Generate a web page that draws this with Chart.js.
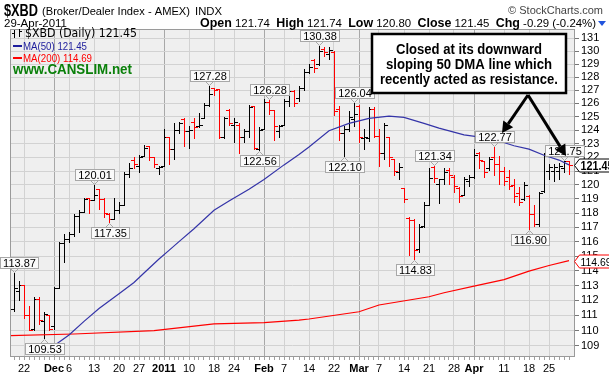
<!DOCTYPE html>
<html><head><meta charset="utf-8">
<script src="https://cdn.jsdelivr.net/npm/chart.js@4/dist/chart.umd.min.js"></script>
<style>html,body{margin:0;padding:0;background:#fff}canvas{display:block}</style>
</head><body>
<canvas id="c" width="609" height="377"></canvas>
<script>
// ---- data ----
const opens  = [111.4,112.6,113.0,111.0,110.1,112.1,110.6,111.0,110.3,112.8,115.9,116.2,116.5,117.8,118.1,119.1,118.9,119.7,119.0,117.95,117.6,118.2,118.6,120.8,121.8,121.4,122.1,122.8,122.0,121.2,121.4,123.5,122.6,124.0,124.8,123.9,124.6,124.3,124.9,125.9,127.2,127.1,123.5,125.5,124.4,124.4,123.5,123.9,125.8,122.6,124.1,126.1,125.5,123.9,124.4,126.2,126.9,126.4,127.2,128.4,129.3,129.0,130.2,129.8,129.9,125.6,123.8,124.1,124.8,125.8,123.4,123.4,125.6,123.6,122.3,123.5,121.9,120.9,119.8,117.65,117.5,115.5,117.1,118.6,121.3,120.1,120.4,121.1,120.6,119.8,119.3,120.3,120.6,122.3,121.7,121.2,122.0,121.5,121.0,120.6,120.0,119.4,119.0,119.2,117.9,117.2,119.6,121.0,121.0,121.0,121.2,121.74];
const highs  = [113.87,113.3,113.0,111.6,112.2,112.2,111.2,111.0,112.9,116.0,116.5,116.7,117.9,118.2,119.1,119.1,120.01,119.7,119.1,118.0,119.1,118.8,120.9,121.6,122.0,122.2,122.9,122.8,122.0,121.4,124.1,123.5,124.5,124.6,124.9,124.3,124.9,125.3,126.0,127.28,127.2,127.1,125.0,125.6,124.9,124.5,124.1,125.9,125.8,124.2,126.3,126.28,125.5,124.4,126.3,127.0,127.0,127.3,128.6,129.0,129.4,130.38,130.3,130.3,130.0,125.8,124.3,125.4,126.04,125.9,124.1,125.7,125.7,124.1,124.5,123.5,121.9,121.6,119.8,117.7,117.6,117.2,118.8,121.2,121.34,120.45,121.2,121.2,120.7,119.86,120.6,120.7,122.6,122.4,121.75,122.0,122.77,122.1,121.27,121.05,120.45,119.86,120.2,119.3,118.6,119.5,122.3,121.5,121.5,121.6,121.75,121.74];
const lows   = [111.3,112.0,110.8,110.0,110.0,110.4,109.53,110.0,110.1,112.8,114.6,116.0,116.4,116.7,118.1,118.0,118.9,118.3,117.7,117.35,117.6,118.0,118.6,120.6,121.2,120.9,122.1,121.8,121.3,120.8,121.4,121.5,121.9,123.8,122.8,122.7,123.4,124.2,124.9,125.8,126.6,123.4,123.4,124.4,123.1,122.3,123.1,123.5,122.6,122.56,124.1,125.2,123.3,123.5,124.4,125.8,125.8,126.2,127.0,128.3,128.4,128.9,129.6,129.4,125.1,123.3,122.10,123.9,124.3,123.1,122.6,123.2,123.5,121.4,121.9,121.4,120.7,120.45,118.8,115.1,114.83,115.3,117.0,118.6,120.2,118.7,120.1,120.1,119.5,118.8,119.27,119.9,120.5,121.2,120.6,121.1,120.7,120.1,120.0,119.74,118.8,118.56,118.9,116.90,117.1,117.1,119.5,120.4,120.3,120.4,120.9,120.80];
const closes = [112.8,113.0,111.0,110.05,112.1,110.7,111.1,110.1,112.8,115.9,116.2,116.5,117.8,118.1,119.0,118.9,119.3,119.0,118.0,117.6,118.2,118.6,120.8,121.2,121.5,122.0,122.7,122.0,121.5,121.3,123.5,122.6,124.0,124.5,123.9,124.0,124.2,124.4,125.9,126.7,127.0,123.5,124.9,124.5,124.6,123.5,123.9,125.7,122.7,124.0,126.1,125.5,124.3,124.3,126.2,126.9,126.0,127.2,128.4,128.8,128.7,130.0,129.9,130.1,125.4,123.8,124.1,125.0,125.2,123.5,123.5,125.6,123.6,122.3,124.4,122.0,121.0,121.3,119.0,117.5,115.4,117.0,118.6,120.5,120.5,120.4,120.9,120.7,119.9,119.2,120.4,120.6,122.2,121.8,120.9,121.9,121.5,121.0,120.3,119.9,119.2,118.8,120.0,117.9,117.2,119.4,122.2,121.3,121.3,121.4,121.7,121.45];

const ma50Idx  = [6,8,11,14,17,21,24,26,29,31,33,36,40,43,47,50,54,57,59,63,67,71,75,78,82,85,90,94,97,100,103,106,109,111];
const ma50Val  = [108.6,109.0,109.7,110.6,111.45,112.45,113.2,113.85,114.8,115.4,116.0,116.9,118.2,118.85,119.7,120.4,121.45,122.2,122.75,123.95,124.5,124.88,125.05,124.95,124.5,124.15,123.65,123.45,123.2,122.85,122.6,122.15,121.8,121.45];
const ma200Idx = [-1,12,28,40,50,57,59,69,73,83,86,92,98,103,107,111];
const ma200Val = [109.66,109.77,109.99,110.43,110.52,110.69,110.76,111.24,111.69,112.24,112.51,112.96,113.4,113.97,114.36,114.69];

const xTickIdx    = [2,8,11,16,21,25,30,35,40,44,50,54,59,64,69,73,78,83,88,92,98,103,107];
const xTickLabels = ['22','Dec','6','13','20','27','2011','10','18','24','Feb','7','14','22','Mar','7','14','21','28','Apr','11','18','25'];
const majorLabels = ['Dec','2011','Feb','Mar','Apr'];
const yTicks = [109,110,111,112,113,114,115,116,117,118,119,120,121,122,123,124,125,126,127,128,129,130,131];

const labelIdx = [0,6,16,19,39,49,51,61,66,68,80,84,96,103,110];
const labelTxt = ['113.87','109.53','120.01','117.35','127.28','122.56','126.28','130.38','122.10','126.04','114.83','121.34','122.77','116.90','121.75'];
const labelUp  = [true,false,true,false,true,false,true,true,false,true,false,true,true,false,true];

const noteLines = ['Closed at its downward','sloping 50 DMA line which','recently acted as resistance.'];

// ---- drawing helpers ----
const SANS = '"Liberation Sans", Arial, sans-serif';
function fitText(ctx, txt, x, y, font, w, align){
  ctx.font = font;
  const m = ctx.measureText(txt).width;
  const s = w ? w/m : 1;
  ctx.save();
  let x0 = x;
  if (align === 'right') x0 = x - m*s;
  else if (align === 'center') x0 = x - m*s/2;
  ctx.translate(x0, y); ctx.scale(s, 1);
  ctx.textAlign = 'left';
  ctx.fillText(txt, 0, 0);
  ctx.restore();
  return m*s;
}

const bgPlugin = {
  id:'bg',
  beforeDraw(chart){
    const {ctx, chartArea:a} = chart;
    ctx.save();
    ctx.fillStyle = '#fff'; ctx.fillRect(0,0,chart.width,chart.height);
    ctx.fillStyle = '#efefef'; ctx.fillRect(a.left,a.top,a.right-a.left,a.bottom-a.top);
    ctx.restore();
  }
};

const ohlcPlugin = {
  id:'ohlc',
  beforeDatasetsDraw(chart){
    const {ctx, scales:{x,y}, chartArea:a} = chart;
    ctx.save();
    ctx.beginPath(); ctx.rect(a.left,a.top,a.right-a.left,a.bottom-a.top); ctx.clip();
    ctx.lineWidth = 1;
    for (let i=0;i<opens.length;i++){
      const px = Math.round(x.getPixelForValue(i)) + 0.5;
      const yh = Math.round(y.getPixelForValue(highs[i]));
      const yl = Math.round(y.getPixelForValue(lows[i]));
      const yo = Math.round(y.getPixelForValue(opens[i])) + 0.5;
      const yc = Math.round(y.getPixelForValue(closes[i])) + 0.5;
      ctx.strokeStyle = closes[i] >= opens[i] ? '#000000' : '#ff0000';
      ctx.beginPath();
      ctx.moveTo(px, yh); ctx.lineTo(px, yl + 1);
      ctx.moveTo(px - 3.5, yo); ctx.lineTo(px, yo);
      ctx.moveTo(px, yc); ctx.lineTo(px + 3.5, yc);
      ctx.stroke();
    }
    ctx.restore();
  }
};

const overlayPlugin = {
  id:'overlay',
  afterDatasetsDraw(chart){
    const {ctx, scales:{x,y}, chartArea:a} = chart;
    ctx.save();
    // frame
    ctx.strokeStyle = '#9a9a9a'; ctx.lineWidth = 1;
    ctx.strokeRect(Math.round(a.left)+0.5, Math.round(a.top)+0.5, Math.round(a.right-a.left)-1, Math.round(a.bottom-a.top)-1);

    // price labels
    ctx.font = '11px ' + SANS;
    ctx.textBaseline = 'middle';
    for (let k=0;k<labelIdx.length;k++){
      const i = labelIdx[k];
      const px = Math.round(x.getPixelForValue(i)) + 0.5;
      const w = Math.round(ctx.measureText(labelTxt[k]).width) + 5;
      const h = 11;
      let by, tipY, baseY;
      if (labelUp[k]){
        tipY = Math.round(y.getPixelForValue(highs[i])) - 1;
        baseY = tipY - 4;
        by = baseY - h;
      } else {
        tipY = Math.round(y.getPixelForValue(lows[i])) + 1;
        baseY = tipY + 4;
        by = baseY;
      }
      let bx = Math.round(px - w/2);
      if (bx < 0) bx = 0;
      ctx.fillStyle = 'rgba(250,250,250,0.95)';
      ctx.fillRect(bx+0.5, by+0.5, w, h);
      ctx.strokeStyle = '#a8a8a8';
      ctx.strokeRect(bx+0.5, by+0.5, w, h);
      ctx.beginPath();
      ctx.moveTo(px-4, baseY+0.5); ctx.lineTo(px, tipY+0.5); ctx.lineTo(px+4, baseY+0.5);
      ctx.stroke();
      ctx.fillStyle = '#000';
      ctx.textAlign = 'center';
      ctx.fillText(labelTxt[k], bx + w/2 + 0.5, by + h/2 + 1);
    }

    // right side value flags
    const flag = (v, txt, border, bold) => {
      const yy = Math.round(y.getPixelForValue(v)) + 0.5;
      const x0 = Math.round(a.right) - 0.5;
      ctx.beginPath();
      ctx.moveTo(x0, yy);
      ctx.lineTo(x0+5, yy-6.5); ctx.lineTo(612, yy-6.5); ctx.lineTo(612, yy+6.5); ctx.lineTo(x0+5, yy+6.5);
      ctx.closePath();
      ctx.fillStyle = '#fff'; ctx.fill();
      ctx.strokeStyle = border; ctx.lineWidth = 1; ctx.stroke();
      ctx.fillStyle = '#000';
      ctx.textBaseline = 'middle';
      fitText(ctx, txt, x0+6, yy+1, (bold ? 'bold 12px ' : '11px ') + SANS, bold ? 33 : 31, 'left');
    };
    flag(closes[closes.length-1], '121.45', '#000', true);
    flag(ma200Val[ma200Val.length-1], '114.69', '#ff0000', false);

    // legend
    ctx.textBaseline = 'alphabetic';
    ctx.strokeStyle = '#000'; ctx.lineWidth = 1;
    ctx.beginPath();
    ctx.moveTo(14.5,30); ctx.lineTo(14.5,38); ctx.moveTo(12,33.5); ctx.lineTo(14.5,33.5);
    ctx.moveTo(19.5,29); ctx.lineTo(19.5,37); ctx.moveTo(19.5,31.5); ctx.lineTo(22,31.5);
    ctx.stroke();
    ctx.fillStyle = '#000';
    fitText(ctx, '$XBD (Daily) 121.45', 25, 37, '12px "DejaVu Sans", Verdana, sans-serif', 112, 'left');
    ctx.fillStyle = '#1c1c9c'; ctx.fillRect(13, 45, 9, 2);
    fitText(ctx, 'MA(50) 121.45', 23, 50, '11px ' + SANS, 64, 'left');
    ctx.fillStyle = '#ff0000'; ctx.fillRect(13, 57, 9, 2);
    fitText(ctx, 'MA(200) 114.69', 23, 62, '11px ' + SANS, 69, 'left');
    ctx.fillStyle = '#0a800a';
    fitText(ctx, 'www.CANSLIM.net', 13, 74, 'bold 15px ' + SANS, 119, 'left');

    // annotation box
    ctx.fillStyle = '#fff';
    ctx.fillRect(371, 33, 196, 61);
    ctx.strokeStyle = '#000'; ctx.lineWidth = 2.5;
    ctx.strokeRect(372, 34, 194, 59);
    ctx.fillStyle = '#000';
    ctx.textAlign = 'left';
    const noteW = [146, 166, 178];
    const noteY = [54, 69, 84];
    for (let k=0;k<noteLines.length;k++) fitText(ctx, noteLines[k], 469, noteY[k], 'bold 14px ' + SANS, noteW[k], 'center');

    // arrows
    const arrow = (x1,y1,x2,y2) => {
      ctx.strokeStyle = '#000'; ctx.fillStyle = '#000'; ctx.lineWidth = 3;
      const ang = Math.atan2(y2-y1, x2-x1);
      const hl = 11, hw = 6;
      const bx = x2 - hl*Math.cos(ang), by = y2 - hl*Math.sin(ang);
      ctx.beginPath(); ctx.moveTo(x1,y1); ctx.lineTo(bx,by); ctx.stroke();
      ctx.beginPath();
      ctx.moveTo(x2,y2);
      ctx.lineTo(bx + hw*Math.sin(ang), by - hw*Math.cos(ang));
      ctx.lineTo(bx - hw*Math.sin(ang), by + hw*Math.cos(ang));
      ctx.closePath(); ctx.fill();
    };
    arrow(528, 95, 502, 133);
    arrow(528, 95, 566, 156);
    ctx.restore();
  },
  afterDraw(chart){
    const ctx = chart.ctx;
    ctx.save();
    ctx.textBaseline = 'alphabetic';
    ctx.fillStyle = '#000';
    fitText(ctx, '$XBD', 4, 16, 'bold 17px ' + SANS, 34, 'left');
    fitText(ctx, '(Broker/Dealer Index - AMEX)', 42, 15, '11px ' + SANS, 148, 'left');
    fitText(ctx, 'INDX', 195, 15, '11px ' + SANS, 27, 'left');
    ctx.fillStyle = '#444';
    fitText(ctx, '\u00A9 StockCharts.com', 603, 14, '11px ' + SANS, 0, 'right');
    ctx.fillStyle = '#000';
    fitText(ctx, '29-Apr-2011', 4, 27, '11px ' + SANS, 63, 'left');
    const segs = [['Open',' 121.74  '],['High',' 121.74  '],['Low',' 120.80  '],['Close',' 121.45  '],['Chg',' -0.29 (-0.24%)']];
    const fb = 'bold 12px ' + SANS, fr = '11px ' + SANS;
    let tot = 0;
    segs.forEach(s => { ctx.font = fb; tot += ctx.measureText(s[0]).width; ctx.font = fr; tot += ctx.measureText(s[1]).width; });
    const sc = 396 / tot;
    let xx = 200;
    segs.forEach(s => {
      xx += fitText(ctx, s[0], xx, 27, fb, ctx.measureText(s[0]).width ? (ctx.font = fb, ctx.measureText(s[0]).width * sc) : 0, 'left');
      ctx.font = fr;
      xx += fitText(ctx, s[1], xx, 27, fr, ctx.measureText(s[1]).width * sc, 'left');
    });
    ctx.fillStyle = '#2255dd';
    ctx.beginPath(); ctx.moveTo(598,21); ctx.lineTo(606,21); ctx.lineTo(602,26); ctx.closePath(); ctx.fill();
    ctx.restore();
  }
};

const ctx = document.getElementById('c').getContext('2d');
new Chart(ctx, {
  type: 'line',
  data: {
    datasets: [
      { label:'MA(50)', data: ma50Idx.map((v,k)=>({x:v, y:ma50Val[k]})), borderColor:'#3434a8', borderWidth:1.2, pointRadius:0, tension:0 },
      { label:'MA(200)', data: ma200Idx.map((v,k)=>({x:v, y:ma200Val[k]})), borderColor:'#ff0000', borderWidth:1.2, pointRadius:0, tension:0 }
    ]
  },
  options: {
    responsive:false, animation:false, devicePixelRatio:1,
    layout:{ padding:{ left:10, top:29, right:0, bottom:0 } },
    plugins:{ legend:{display:false}, tooltip:{enabled:false}, title:{display:false} },
    scales:{
      x:{
        type:'linear', min:-0.8, max:112.2,
        afterBuildTicks(s){ const t=[]; for(let i=0;i<opens.length;i++) t.push({value:i}); s.ticks=t; },
        afterFit(s){ s.height = 20; },
        grid:{
          color:(c)=>{ const k=xTickIdx.indexOf(c.tick && c.tick.value); if(k<0) return 'rgba(0,0,0,0)'; return majorLabels.includes(xTickLabels[k]) ? '#a8a8a8' : '#d2d2d2'; },
          tickColor:'#a0a0a0', tickLength:3, drawTicks:true, lineWidth:1
        },
        border:{display:false},
        ticks:{
          autoSkip:false, maxRotation:0, minRotation:0, padding:2, color:'#000',
          callback:(v)=>{ const k=xTickIdx.indexOf(v); return k<0 ? '' : xTickLabels[k]; },
          font:(c)=>{ const v=c.tick ? c.tick.value : -1; const k=xTickIdx.indexOf(v); return { family:'"Liberation Sans", Arial, sans-serif', size:11, weight: (k>=0 && majorLabels.includes(xTickLabels[k])) ? 'bold' : 'normal' }; }
        }
      },
      y:{
        type:'logarithmic', position:'right', min:108.27, max:131.73,
        afterBuildTicks(s){ s.ticks = yTicks.map(v=>({value:v})); },
        afterFit(s){ s.width = 34; },
        grid:{ color:'#d2d2d2', tickColor:'#777', tickLength:4, lineWidth:1 },
        border:{display:false},
        ticks:{ autoSkip:false, padding:2, color:'#000', font:{family:'"Liberation Sans", Arial, sans-serif', size:11}, callback:(v)=>String(v) }
      }
    }
  },
  plugins:[bgPlugin, ohlcPlugin, overlayPlugin]
});
</script>
</body></html>
